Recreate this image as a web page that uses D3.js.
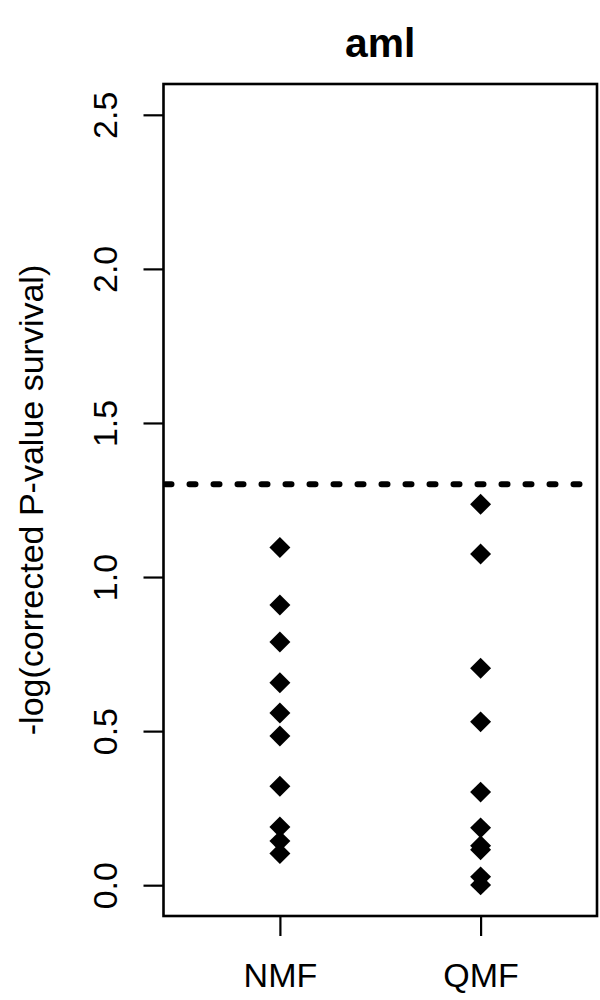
<!DOCTYPE html>
<html>
<head>
<meta charset="utf-8">
<script src="https://cdn.jsdelivr.net/npm/d3@7"></script>
<style>
  html, body { margin: 0; padding: 0; background: #fff; }
  svg { display: block; font-family: "Liberation Sans", Arial, Helvetica, sans-serif; }
</style>
</head>
<body>
<svg id="chart" width="600" height="1000"></svg>
<script>
// ---- data ----
const title = "aml";
const yLabel = "-log(corrected P-value survival)";
const categories = ["NMF", "QMF"];
const nmfValues = [1.096, 0.909, 0.789, 0.657, 0.559, 0.484, 0.321, 0.189, 0.143, 0.103];
const qmfValues = [1.236, 1.075, 0.704, 0.530, 0.302, 0.186, 0.128, 0.115, 0.027, 0.001];
const yTicks = [0, 0.5, 1.0, 1.5, 2.0, 2.5];
const threshold = 1.301; // -log10(0.05)

// ---- layout ----
const svg = d3.select("#chart");
const pLeft = 163.5, pRight = 597, pTop = 84, pBottom = 916;

const x = d3.scaleLinear().domain([0.42, 2.58]).range([pLeft, pRight]);
const y = d3.scaleLinear().domain([-0.1, 2.6]).range([pBottom, pTop]);

// clip for plot region
svg.append("defs").append("clipPath").attr("id", "plotclip")
  .append("rect").attr("x", pLeft).attr("y", pTop)
  .attr("width", pRight - pLeft).attr("height", pBottom - pTop);

// title
svg.append("text")
  .attr("x", (pLeft + pRight) / 2).attr("y", 56.7)
  .attr("text-anchor", "middle")
  .attr("font-size", 40.8).attr("font-weight", "bold")
  .text(title);

// y axis
const yAxis = svg.append("g")
  .attr("transform", `translate(${pLeft},0)`)
  .call(d3.axisLeft(y).tickValues(yTicks).tickSize(20).tickFormat(d3.format(".1f")));
yAxis.select(".domain").remove();
yAxis.selectAll(".tick line").attr("stroke", "#000").attr("stroke-width", 2.2);
yAxis.selectAll(".tick text")
  .attr("transform", "rotate(-90)")
  .attr("x", 0).attr("y", -46.8).attr("dy", null)
  .attr("text-anchor", "middle")
  .attr("font-size", 34).attr("fill", "#000")
  .attr("font-family", "'Liberation Sans', Arial, sans-serif");

// x axis
const xAxis = svg.append("g")
  .attr("transform", `translate(0,${pBottom})`)
  .call(d3.axisBottom(x).tickValues([1, 2]).tickSize(20).tickFormat((d, i) => categories[i]));
xAxis.select(".domain").remove();
xAxis.selectAll(".tick line").attr("stroke", "#000").attr("stroke-width", 2.2);
xAxis.selectAll(".tick text")
  .attr("y", 71).attr("dy", null)
  .attr("font-size", 34).attr("fill", "#000")
  .attr("font-family", "'Liberation Sans', Arial, sans-serif");

// y label
svg.append("text")
  .attr("transform", `translate(43,${(pTop + pBottom) / 2}) rotate(-90)`)
  .attr("text-anchor", "middle")
  .attr("font-size", 34)
  .text(yLabel);

// threshold line
svg.append("line")
  .attr("clip-path", "url(#plotclip)")
  .attr("x1", pLeft + 2).attr("x2", pRight)
  .attr("y1", y(threshold)).attr("y2", y(threshold))
  .attr("stroke", "#000").attr("stroke-width", 6)
  .attr("stroke-linecap", "round")
  .attr("stroke-dasharray", "6,18");

// points
const series = [nmfValues, qmfValues];
const diamond = d3.symbol().type(d3.symbolSquare).size(220);
const pts = svg.append("g");
series.forEach((vals, i) => {
  pts.selectAll(null).data(vals).enter().append("path")
    .attr("d", diamond)
    .attr("transform", d => `translate(${x(i + 1)},${y(d)}) rotate(45)`)
    .attr("fill", "#000");
});

// box
svg.append("rect")
  .attr("x", pLeft).attr("y", pTop)
  .attr("width", pRight - pLeft).attr("height", pBottom - pTop)
  .attr("fill", "none").attr("stroke", "#000").attr("stroke-width", 2.6);
</script>
</body>
</html>
